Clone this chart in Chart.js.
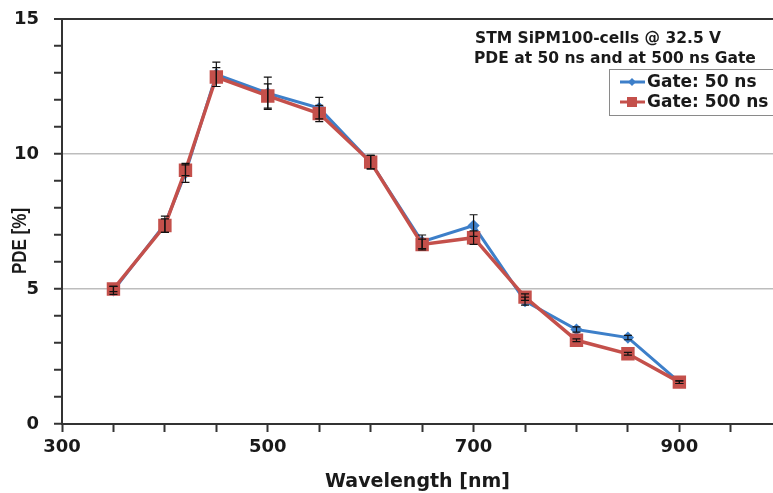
<!DOCTYPE html>
<html>
<head>
<meta charset="utf-8">
<script src="https://cdn.jsdelivr.net/npm/chart.js@4.4.1/dist/chart.umd.min.js"></script>
<style>
  body { margin: 0; background: #fff; }
  #myChart { display: block; }
</style>
</head>
<body>
<canvas id="myChart" width="773" height="493"></canvas>
<script>
const wavelengths = [350, 400, 420, 450, 500, 550, 600, 650, 700, 750, 800, 850, 900];
const gate50 = [4.95, 7.4, 9.3, 12.95, 12.25, 11.7, 9.7, 6.75, 7.35, 4.55, 3.5, 3.2, 1.55];
const gate500 = [5.0, 7.35, 9.4, 12.85, 12.15, 11.5, 9.7, 6.65, 6.9, 4.7, 3.1, 2.6, 1.55];
const err50 = [0.15, 0.3, 0.35, 0.45, 0.6, 0.4, 0.25, 0.25, 0.4, 0.15, 0.1, 0.08, 0.05];
const err500 = [0.1, 0.25, 0.2, 0.35, 0.45, 0.3, 0.25, 0.2, 0.25, 0.12, 0.05, 0.05, 0.05];
const xLabels = [300, 500, 700, 900];
const yLabels = [0, 5, 10, 15];
const titleLines = ["STM SiPM100-cells @ 32.5 V", "PDE at 50 ns and at 500 ns Gate"];

const blue = "#3d7fc9";
const red = "#c4504b";
const boldFont = "'DejaVu Sans', sans-serif";

function points(ys) {
  return wavelengths.map((x, i) => ({ x: x, y: ys[i] }));
}

// error bars + in-plot texts + legend box
const extras = {
  id: "extras",
  afterDatasetsDraw(chart) {
    const ctx = chart.ctx;
    const xs = chart.scales.x;
    const ys = chart.scales.y;
    ctx.save();
    ctx.strokeStyle = "#111";
    ctx.lineWidth = 1.2;
    [[gate50, err50], [gate500, err500]].forEach(([vals, errs]) => {
      vals.forEach((v, i) => {
        const px = xs.getPixelForValue(wavelengths[i]);
        const top = ys.getPixelForValue(v + errs[i]);
        const bot = ys.getPixelForValue(v - errs[i]);
        ctx.beginPath();
        ctx.moveTo(px, top);
        ctx.lineTo(px, bot);
        ctx.moveTo(px - 4, top);
        ctx.lineTo(px + 4, top);
        ctx.moveTo(px - 4, bot);
        ctx.lineTo(px + 4, bot);
        ctx.stroke();
      });
    });
    ctx.restore();
  },
  afterDraw(chart) {
    const ctx = chart.ctx;
    ctx.save();
    ctx.fillStyle = "#1a1a1a";
    ctx.textBaseline = "middle";
    ctx.textAlign = "left";
    ctx.font = "bold 15.5px " + boldFont;
    ctx.fillText(titleLines[0], 475, 39);
    ctx.fillText(titleLines[1], 474, 59);

    // legend box
    ctx.strokeStyle = "#8a8a8a";
    ctx.lineWidth = 1;
    ctx.strokeRect(609.5, 69.5, 170, 46);
    ctx.font = "bold 17px " + boldFont;
    chart.data.datasets.forEach((ds, i) => {
      const y = 82 + i * 20;
      ctx.strokeStyle = ds.borderColor;
      ctx.lineWidth = 3;
      ctx.beginPath();
      ctx.moveTo(620, y);
      ctx.lineTo(645, y);
      ctx.stroke();
      ctx.fillStyle = ds.borderColor;
      if (ds.pointStyle === "rect") {
        ctx.fillRect(627, y - 5, 10, 10);
      } else {
        ctx.beginPath();
        ctx.moveTo(632, y - 4);
        ctx.lineTo(636, y);
        ctx.lineTo(632, y + 4);
        ctx.lineTo(628, y);
        ctx.closePath();
        ctx.fill();
      }
      ctx.fillStyle = "#1a1a1a";
      ctx.fillText(ds.label, 647, y + 1);
    });

    // y axis title (glyphs a bit taller, like the original)
    ctx.translate(20, 241);
    ctx.rotate(-Math.PI / 2);
    ctx.scale(1, 1.2);
    ctx.textAlign = "center";
    ctx.font = "bold 17px 'Liberation Sans', Arial, sans-serif";
    ctx.fillText("PDE [%]", 0, 0);
    ctx.restore();
  }
};

const myChart = document.getElementById("myChart").getContext("2d");
const pdeChart = new Chart(myChart, {
  type: "line",
  data: {
    datasets: [
      {
        label: "Gate: 50 ns",
        data: points(gate50),
        borderColor: blue,
        backgroundColor: blue,
        borderWidth: 3,
        pointStyle: "rectRot",
        pointRadius: 4,
        order: 2
      },
      {
        label: "Gate: 500 ns",
        data: points(gate500),
        borderColor: red,
        backgroundColor: red,
        borderWidth: 3.5,
        pointStyle: "rect",
        pointRadius: 7,
        order: 1
      }
    ]
  },
  options: {
    responsive: false,
    animation: false,
    devicePixelRatio: 1,
    layout: { autoPadding: false, padding: { top: 19, right: 0, left: 0, bottom: 0 } },
    plugins: {
      legend: { display: false },
      tooltip: { enabled: false }
    },
    scales: {
      x: {
        type: "linear",
        min: 300,
        max: 991,
        afterFit(scale) {
          scale.height = 69;
        },
        ticks: {
          stepSize: 50,
          includeBounds: false,
          autoSkip: false,
          maxRotation: 0,
          padding: 5,
          color: "#1a1a1a",
          font: { family: boldFont, size: 18, weight: "bold" },
          callback: (v) => (xLabels.includes(v) ? String(v) : "")
        },
        grid: {
          drawOnChartArea: false,
          drawTicks: true,
          tickLength: 8,
          tickColor: "#333",
          tickWidth: 2
        },
        border: { display: true, color: "#333", width: 2 },
        title: {
          display: true,
          text: "Wavelength [nm]",
          color: "#1a1a1a",
          padding: 0,
          font: { family: boldFont, size: 19, weight: "bold" }
        }
      },
      y: {
        min: 0,
        max: 15,
        afterFit(scale) {
          scale.width = 62;
          scale.paddingTop = 0;
          scale.paddingBottom = 0;
        },
        ticks: {
          stepSize: 1,
          autoSkip: false,
          padding: 15,
          color: "#1a1a1a",
          font: { family: boldFont, size: 18, weight: "bold" },
          callback: (v) => (yLabels.includes(v) ? String(v) : "")
        },
        grid: {
          drawTicks: true,
          tickLength: 8,
          tickColor: "#333",
          tickWidth: 2,
          color: (c) => (c.tick.value === 15 ? "#333" : (c.tick.value % 5 === 0 ? "#bdbdbd" : "rgba(0,0,0,0)")),
          lineWidth: (c) => (c.tick.value === 15 ? 2 : 1.5)
        },
        border: { display: true, color: "#333", width: 2 }
      }
    }
  },
  plugins: [extras]
});
</script>
</body>
</html>
